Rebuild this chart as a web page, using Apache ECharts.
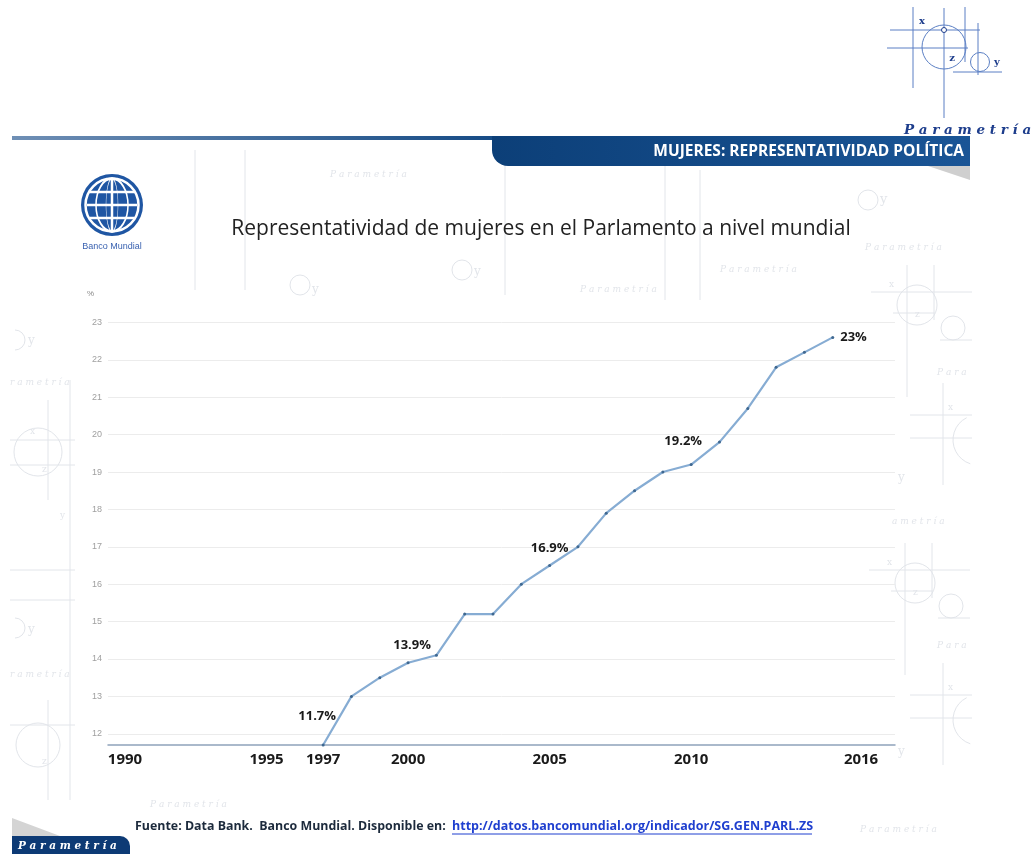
<!DOCTYPE html>
<html>
<head>
<meta charset="utf-8">
<script src="https://cdn.jsdelivr.net/npm/echarts@6/dist/echarts.min.js"></script>
<style>
html,body{margin:0;padding:0;background:#fff;}
#c{width:1035px;height:854px;}
</style>
</head>
<body>
<div id="c"></div>
<script>
// ---- data ----
const years = [1997,1998,1999,2000,2001,2002,2003,2004,2005,2006,2007,2008,2009,2010,2011,2012,2013,2014,2015];
const shares = [11.7,13.0,13.5,13.9,14.1,15.2,15.2,16.0,16.5,17.0,17.9,18.5,19.0,19.2,19.8,20.7,21.8,22.2,22.6];
const labelYears = [1997,2000,2005,2010,2015];
const labelTexts = ['11.7%','13.9%','16.9%','19.2%','23%'];
const xTickYears = [1990,1995,1997,2000,2005,2010,2016];
const yTickValues = [12,13,14,15,16,17,18,19,20,21,22,23];

const labelStyle = {
  1997:{position:'top',offset:[-6,-16]},
  2000:{position:'top',offset:[4,-4]},
  2005:{position:'top',offset:[0,-4]},
  2010:{position:'top',offset:[-8,-10]},
  2015:{position:'right',distance:6,offset:[0,0]}
};

const seriesData = years.map((y,i)=>{
  const k = labelYears.indexOf(y);
  const item = {value:[y, shares[i]]};
  if(k>=0){
    item.label = Object.assign({show:true, formatter: labelTexts[k]}, labelStyle[y]);
  }
  return item;
});

const chart = echarts.init(document.getElementById('c'), null, {renderer:'canvas'});
const logoBlue = '#5b7fc4';
const wm = '#e2e5ea';

function L(x1,y1,x2,y2,c,w,z){return {type:'line',shape:{x1,y1,x2,y2},style:{stroke:c||logoBlue,lineWidth:w||1},silent:true,z:(z===undefined?-1:z)};}
function E(cx,cy,rx,ry,c,w){return {type:'circle',x:cx,y:cy,scaleX:rx/ry,shape:{cx:0,cy:0,r:ry},style:{fill:'none',stroke:c,lineWidth:w,strokeNoScale:true},silent:true,z:5};}
function C(cx,cy,r,c){return {type:'circle',shape:{cx,cy,r},style:{fill:'none',stroke:c||wm,lineWidth:1},silent:true,z:-1};}
function A(cx,cy,r,a0,a1,c){return {type:'arc',shape:{cx,cy,r,startAngle:a0,endAngle:a1},style:{fill:'none',stroke:c||wm,lineWidth:1},silent:true,z:-1};}
function T(t,x,y,f,c){return {type:'text',style:{text:t,x,y,align:'left',verticalAlign:'middle',fill:c||wm,font:f||'italic 9px "DejaVu Serif", serif'},silent:true,z:-1};}
// faint watermark copy of the Parametria logo
function W(cx,cy){
  return [
    L(cx-46,cy-13,cx+55,cy-13,wm), L(cx-24,cy+8,cx+18,cy+8,wm), L(cx-10,cy-40,cx-10,cy+92,wm),
    L(cx+17,cy-40,cx+17,cy+15,wm), L(cx+23,cy+35,cx+55,cy+35,wm),
    C(cx,cy,20), C(cx+36,cy+23,12),
    T('x',cx-28,cy-20,'9px "DejaVu Serif", serif'), T('z',cx-2,cy+10,'9px "DejaVu Serif", serif')
  ];
}

let graphics = [];
// watermarks
graphics = graphics.concat(W(917,305), W(915,583));
graphics.push(
  L(943,383,943,485,wm), L(910,415,972,415,wm), L(910,438,972,438,wm), A(978,440,25,Math.PI*0.6,Math.PI*1.35), T('x',948,408,'9px "DejaVu Serif", serif'),
  L(943,663,943,765,wm), L(910,695,972,695,wm), L(910,718,972,718,wm), A(978,720,25,Math.PI*0.6,Math.PI*1.35), T('x',948,688,'9px "DejaVu Serif", serif'),
  T('P a r a',937,373), T('P a r a',937,646), T('a m e t r í a',892,522), T('P a r a m e t r í a',865,248),
  T('y',898,478,'12px "DejaVu Serif", serif'), T('y',898,752,'12px "DejaVu Serif", serif'),
  // left edge
  A(15,340,10,-Math.PI*0.5,Math.PI*0.5), T('y',28,341,'12px "DejaVu Serif", serif'), T('r a m e t r í a',10,383),
  C(38,452,24), L(10,440,75,440,wm), L(10,465,75,465,wm), L(48,400,48,500,wm), L(70,380,70,800,wm),
  T('x',30,432,'9px "DejaVu Serif", serif'), T('z',42,470,'9px "DejaVu Serif", serif'), T('y',60,516,'9px "DejaVu Serif", serif'),
  A(15,628,10,-Math.PI*0.5,Math.PI*0.5), T('y',28,630,'12px "DejaVu Serif", serif'), T('r a m e t r í a',10,675),
  C(38,745,22), L(10,725,75,725,wm), L(48,700,48,800,wm), T('z',42,762,'9px "DejaVu Serif", serif'),
  L(10,570,75,570,wm), L(10,600,75,600,wm),
  // top slide area
  C(300,285,10), T('y',312,290,'12px "DejaVu Serif", serif'), C(462,270,10), T('y',474,272,'12px "DejaVu Serif", serif'),
  C(868,200,10), T('y',880,200,'13px "DejaVu Serif", serif'),
  L(195,150,195,290,wm), L(245,150,245,290,wm), L(505,160,505,295,wm), L(665,160,665,300,wm), L(700,170,700,300,wm),
  T('P a r a m e t r í a',330,175), T('P a r a m e t r í a',580,290), T('P a r a m e t r í a',720,270),
  T('P a r a m e t r í a',860,830), T('P a r a m e t r í a',150,805)
);

graphics = graphics.concat([
  // header thin line
  {type:'rect',shape:{x:12,y:136,width:482,height:4},style:{fill:new echarts.graphic.LinearGradient(0,0,1,0,[{offset:0,color:'#6f8fb5'},{offset:1,color:'#174c86'}])}},
  // header tab
  {type:'rect',shape:{x:492,y:136,width:478,height:30,r:[0,0,0,16]},style:{fill:new echarts.graphic.LinearGradient(0,0,1,0,[{offset:0,color:'#0c3f78'},{offset:1,color:'#1a5596'}])}},
  {type:'polygon',shape:{points:[[928,166],[970,166],[970,180]]},style:{fill:'#cfcfcf'}},
  {type:'text',style:{text:'MUJERES: REPRESENTATIVIDAD POLÍTICA',x:964,y:152,align:'right',verticalAlign:'middle',fill:'#ffffff',font:'bold 15.5px "Open Sans", sans-serif'}},
  // title
  {type:'text',style:{text:'Representatividad de mujeres en el Parlamento a nivel mundial',x:541,y:229,align:'center',verticalAlign:'middle',fill:'#222222',font:'21px "Open Sans", sans-serif'}},
  // Parametria logo top-right
  L(890,30,980,30), L(887,48,968,48), L(913,7,913,88), L(944,8,944,118), L(965,7,965,62), L(978,23,978,75), L(953,72,1002,72),
  {type:'circle',shape:{cx:944,cy:47,r:22},style:{fill:'none',stroke:logoBlue,lineWidth:1}},
  {type:'circle',shape:{cx:980,cy:62,r:9.5},style:{fill:'none',stroke:logoBlue,lineWidth:1}},
  {type:'circle',shape:{cx:944,cy:30,r:2.5},style:{fill:'#fff',stroke:'#1d3d8c',lineWidth:1}},
  {type:'text',style:{text:'x',x:922,y:21,align:'center',verticalAlign:'middle',fill:'#1d3d8c',font:'bold 10px "DejaVu Serif", serif'}},
  {type:'text',style:{text:'z',x:952,y:58,align:'center',verticalAlign:'middle',fill:'#1d3d8c',font:'bold 10px "DejaVu Serif", serif'}},
  {type:'text',style:{text:'y',x:997,y:62,align:'center',verticalAlign:'middle',fill:'#1d3d8c',font:'bold 10px "DejaVu Serif", serif'}},
  {type:'text',style:{text:'P a r a m e t r í a',x:904,y:130,align:'left',verticalAlign:'middle',fill:'#1d3d8c',font:'italic bold 13.5px "DejaVu Serif", serif'}},
  // Banco Mundial globe
  {type:'circle',shape:{cx:112,cy:205,r:31},style:{fill:'#1f56a3'},z:4},
  {type:'circle',shape:{cx:112,cy:205,r:26.5},style:{fill:'none',stroke:'#ffffff',lineWidth:2.5},z:5},
  E(112,205,16,26.5,'#ffffff',2.5),
  E(112,205,6,26.5,'#ffffff',2),
  L(112,178.5,112,231.5,'#ffffff',2.5,5),
  L(87,205,137,205,'#ffffff',2.5,5),
  L(90,192,134,192,'#ffffff',2.5,5),
  L(90,218,134,218,'#ffffff',2.5,5),
  {type:'text',style:{text:'Banco Mundial',x:112,y:247,align:'center',verticalAlign:'middle',fill:'#3a62b0',font:'9px "Liberation Sans", sans-serif'}},
  // footer
  {type:'text',style:{text:'Fuente: Data Bank.  Banco Mundial. Disponible en: ',x:449,y:826,align:'right',verticalAlign:'middle',fill:'#1c2a3c',font:'bold 12.4px "Open Sans", sans-serif'}},
  {type:'text',style:{text:'http://datos.bancomundial.org/indicador/SG.GEN.PARL.ZS',x:452,y:826,align:'left',verticalAlign:'middle',fill:'#1f3fcf',font:'bold 12.5px "Open Sans", sans-serif'}},
  L(452,834,812,834,'#1f3fcf',1,0),
  {type:'polygon',shape:{points:[[12,818],[60,836],[12,836]]},style:{fill:'#d4d4d4'}},
  {type:'rect',shape:{x:12,y:836,width:118,height:18,r:[0,10,0,0]},style:{fill:'#0d3a75'}},
  {type:'text',style:{text:'P a r a m e t r í a',x:18,y:846,align:'left',verticalAlign:'middle',fill:'#ffffff',font:'italic bold 10.5px "DejaVu Serif", serif'}}
]);

const option = {
  backgroundColor:'#ffffff',
  animation:false,
  grid:{left:108,right:140,top:300,bottom:109,containLabel:false},
  xAxis:{
    type:'value', min:1989.4, max:2017.2,
    axisLine:{show:true,lineStyle:{color:'#8fa3bb',width:1.5}},
    axisTick:{show:false,customValues:xTickYears},
    splitLine:{show:false},
    axisLabel:{customValues:xTickYears,formatter:v=>String(v),margin:7,color:'#1a1a1a',fontSize:15,fontWeight:'bold',fontFamily:'"Open Sans", sans-serif'}
  },
  yAxis:{
    type:'value', min:11.7, max:23.6,
    name:'%', nameLocation:'end', nameGap:2,
    nameTextStyle:{color:'#888',fontSize:8,align:'right',padding:[0,14,0,0]},
    axisLine:{show:false},
    axisTick:{show:false,customValues:yTickValues},
    axisLabel:{customValues:yTickValues,margin:6,color:'#a0a0a0',fontSize:9,fontFamily:'"Liberation Sans", sans-serif'},
    splitLine:{show:true,lineStyle:{color:'#ececec',width:1}}
  },
  series:[{
    type:'line',
    data:seriesData,
    showSymbol:true, symbol:'circle', symbolSize:3,
    itemStyle:{color:'#3f6890'},
    lineStyle:{color:'#86acd3',width:2.2},
    label:{show:false,color:'#1a1a1a',fontSize:13,fontWeight:'bold',fontFamily:'"Open Sans", sans-serif'},
    emphasis:{disabled:true},
    z:3
  }],
  graphic:graphics
};
chart.setOption(option);
</script>
</body>
</html>
